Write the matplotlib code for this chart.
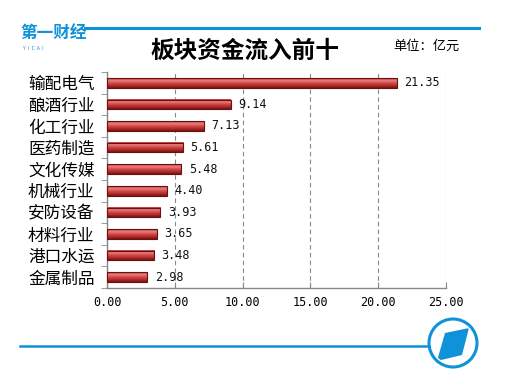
import numpy as np
import matplotlib.pyplot as plt
from matplotlib.patches import Circle, Polygon
from matplotlib.lines import Line2D

plt.rcParams['font.family'] = ['Noto Sans CJK SC', 'DejaVu Sans']

sectors = ["输配电气", "酿酒行业", "化工行业", "医药制造", "文化传媒",
           "机械行业", "安防设备", "材料行业", "港口水运", "金属制品"]
inflow = [21.35, 9.14, 7.13, 5.61, 5.48, 4.40, 3.93, 3.65, 3.48, 2.98]
xticks = [0, 5, 10, 15, 20, 25]

blue = "#0f92d8"

fig = plt.figure(figsize=(5.05, 3.86), dpi=100)
ax = fig.add_axes([0.2119, 0.2539, 0.6713, 0.5596])

n = len(sectors)
ypos = np.arange(n)[::-1]
h = 0.45

# gradient for bars: light top, dark bottom
grad = np.linspace(0, 1, 64).reshape(-1, 1)
cmap = plt.matplotlib.colors.LinearSegmentedColormap.from_list(
    "barred", ["#7a1414", "#b32c2c", "#d24a4a", "#e88080", "#c43a3a"])
for y, v in zip(ypos, inflow):
    ax.imshow(grad, cmap=cmap, aspect="auto", origin="lower",
              extent=(0, v, y - h / 2, y + h / 2), zorder=3)
    ax.barh(y, v, height=h, facecolor="none", edgecolor="#6b1010",
            linewidth=0.8, zorder=4)
    ax.text(v + 0.55, y, f"{v:.2f}", va="center", ha="left",
            fontsize=8.5, family="DejaVu Sans Mono", color="#111111")

ax.set_xlim(0, 25)
ax.set_ylim(-0.5, n - 0.5)
ax.set_xticks(xticks)
ax.set_xticklabels([f"{t:.2f}" for t in xticks], family="DejaVu Sans Mono",
                   fontsize=8.5)
ax.set_yticks(ypos)
ax.set_yticklabels(sectors, fontsize=12)
ax.set_yticks(np.arange(-0.5, n, 1), minor=True)
ax.tick_params(axis="y", which="major", length=0, pad=9)
ax.tick_params(axis="y", which="minor", length=4, color="#888888",
               direction="out")
ax.tick_params(axis="x", length=4, direction="in", color="#888888", pad=6)

ax.grid(axis="x", color="#888888", linestyle=(0, (4, 3)), linewidth=0.8,
        zorder=1)
for side in ["top", "right"]:
    ax.spines[side].set_visible(False)
for side in ["left", "bottom"]:
    ax.spines[side].set_color("#888888")
    ax.spines[side].set_linewidth(1.0)

# header
fig.text(0.485, 0.868, "板块资金流入前十", ha="center", va="center",
         fontsize=17, fontweight="bold")
fig.text(0.845, 0.88, "单位：亿元", ha="center", va="center", fontsize=9.5)
fig.add_artist(Line2D([0.168, 0.948], [0.927, 0.927], color=blue, lw=2.2))
fig.text(0.04, 0.915, "第一财经", ha="left", va="center", fontsize=12,
         fontweight="bold", color=blue)
fig.text(0.045, 0.875, "Y  I  C  A  I", ha="left", va="center", fontsize=3.5,
         color=blue)

# footer
fig.add_artist(Line2D([0.04, 0.85], [0.104, 0.104], color=blue, lw=1.8))
lx = fig.add_axes([(453 - 28) / 505, (386 - 343 - 28) / 386, 56 / 505, 56 / 386])
lx.set_xlim(-28, 28)
lx.set_ylim(-28, 28)
lx.set_aspect("equal")
lx.axis("off")
ring = Circle((0, 0), 24, facecolor="white", edgecolor=blue, lw=2.2)
lx.add_patch(ring)
inner = Circle((0, 0), 21, transform=lx.transData)
par = Polygon([(-8, 10), (16, 15), (9, -12), (-16, -18)], closed=True,
              facecolor=blue, edgecolor="none")
lx.add_patch(par)
par.set_clip_path(inner)

fig.savefig("out.png", dpi=100)
